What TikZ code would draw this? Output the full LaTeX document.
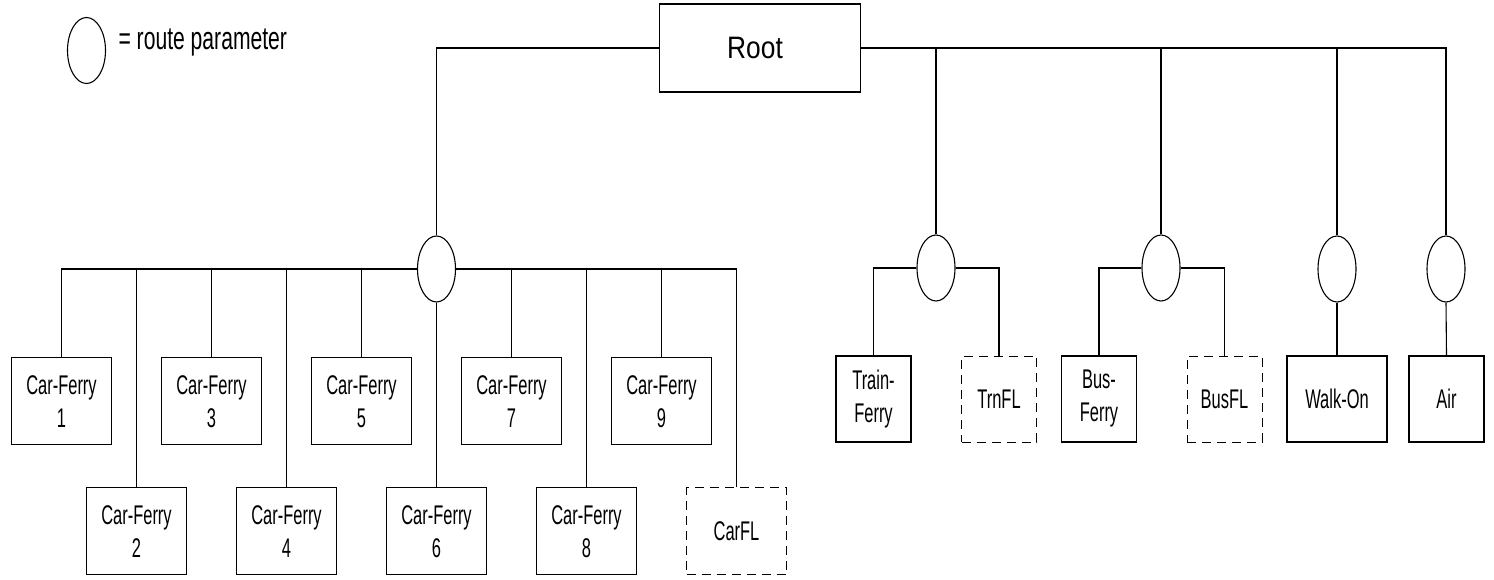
\documentclass[tikz,border=0pt]{standalone}
\usepackage{fontspec}
\setmainfont{Liberation Sans}
\newfontfamily\condfont{Liberation Sans}[FakeStretch=0.61]
\newfontfamily\legfont{Liberation Sans}[FakeStretch=0.66]
\newfontfamily\rootfont{Liberation Sans}[FakeStretch=0.85]
\usetikzlibrary{shapes.geometric}
\begin{document}
\begin{tikzpicture}[x=1pt,y=-1pt,line width=1.1pt,
  box/.style={draw,rectangle,minimum width=100pt,minimum height=87pt,inner sep=0pt,align=center,font=\condfont\fontsize{27}{33}\selectfont},
  fbox/.style={box,dash pattern=on 9pt off 6pt,line width=0.8pt},
  rbox/.style={minimum width=75pt,minimum height=86pt},
  rp/.style={draw,ellipse,minimum width=38pt,minimum height=66pt,inner sep=0pt}]
\useasboundingbox (0,0) rectangle (1494,580);
% legend
\node[rp] (leg) at (86.5,50.5) {};
\node[anchor=base west,inner sep=0pt,font=\legfont\fontsize{32}{36}\selectfont] (legt) at (118,50) {= route parameter};
% root
\node[draw,minimum width=201pt,minimum height=88pt,inner sep=0pt,font=\rootfont\fontsize{31}{34}\selectfont] (root) at (760,48) {Root\hspace*{10pt}};
% route parameters
\node[rp] (carP) at (436.5,269) {};
\node[rp] (trnP) at (936,268) {};
\node[rp] (busP) at (1161,268) {};
\node[rp] (walkP) at (1337,269) {};
\node[rp] (airP) at (1446,269) {};
% car ferry boxes
\node[box] (c1) at (61.5,401.3) {Car-Ferry\\1};
\node[box] (c2) at (136.5,531.3) {Car-Ferry\\2};
\node[box] (c3) at (211.5,401.3) {Car-Ferry\\3};
\node[box] (c4) at (286.5,531.3) {Car-Ferry\\4};
\node[box] (c5) at (361.5,401.3) {Car-Ferry\\5};
\node[box] (c6) at (436.5,531.3) {Car-Ferry\\6};
\node[box] (c7) at (511.5,401.3) {Car-Ferry\\7};
\node[box] (c8) at (586.5,531.3) {Car-Ferry\\8};
\node[box] (c9) at (661.5,401.3) {Car-Ferry\\9};
\node[fbox] (cfl) at (736.5,531.3) {CarFL};
% right boxes
\node[box,rbox] (trn) at (873.5,399) {Train-\\Ferry};
\node[fbox,rbox] (trnfl) at (999,399) {TrnFL};
\node[box,rbox] (bus) at (1099,399) {Bus-\\Ferry};
\node[fbox,rbox] (busfl) at (1224.5,399) {BusFL};
\node[box,rbox,minimum width=100pt] (walk) at (1337,399) {Walk-On};
\node[box,rbox] (air) at (1446.5,399) {Air};
% root connectors
\draw (root.west) -| (carP.north);
\draw (root.east) -| (airP.north);
\draw (trnP.north) -- (trnP.north |- root.east);
\draw (busP.north) -- (busP.north |- root.east);
\draw (walkP.north) -- (walkP.north |- root.east);
% car connectors
\draw (c1.north) |- (carP.west);
\draw (cfl.north) |- (carP.east);
\foreach \c in {c2,c3,c4,c5,c7,c8,c9} \draw (\c.north) -- (\c.north |- carP.west);
\draw (carP.south) -- (c6.north);
% right connectors
\draw (trn.north) |- (trnP.west);
\draw (trnfl.north) |- (trnP.east);
\draw (bus.north) |- (busP.west);
\draw (busfl.north) |- (busP.east);
\draw (walkP.south) -- (walk.north);
\draw (airP.south) -- (air.north);
\end{tikzpicture}
\end{document}
